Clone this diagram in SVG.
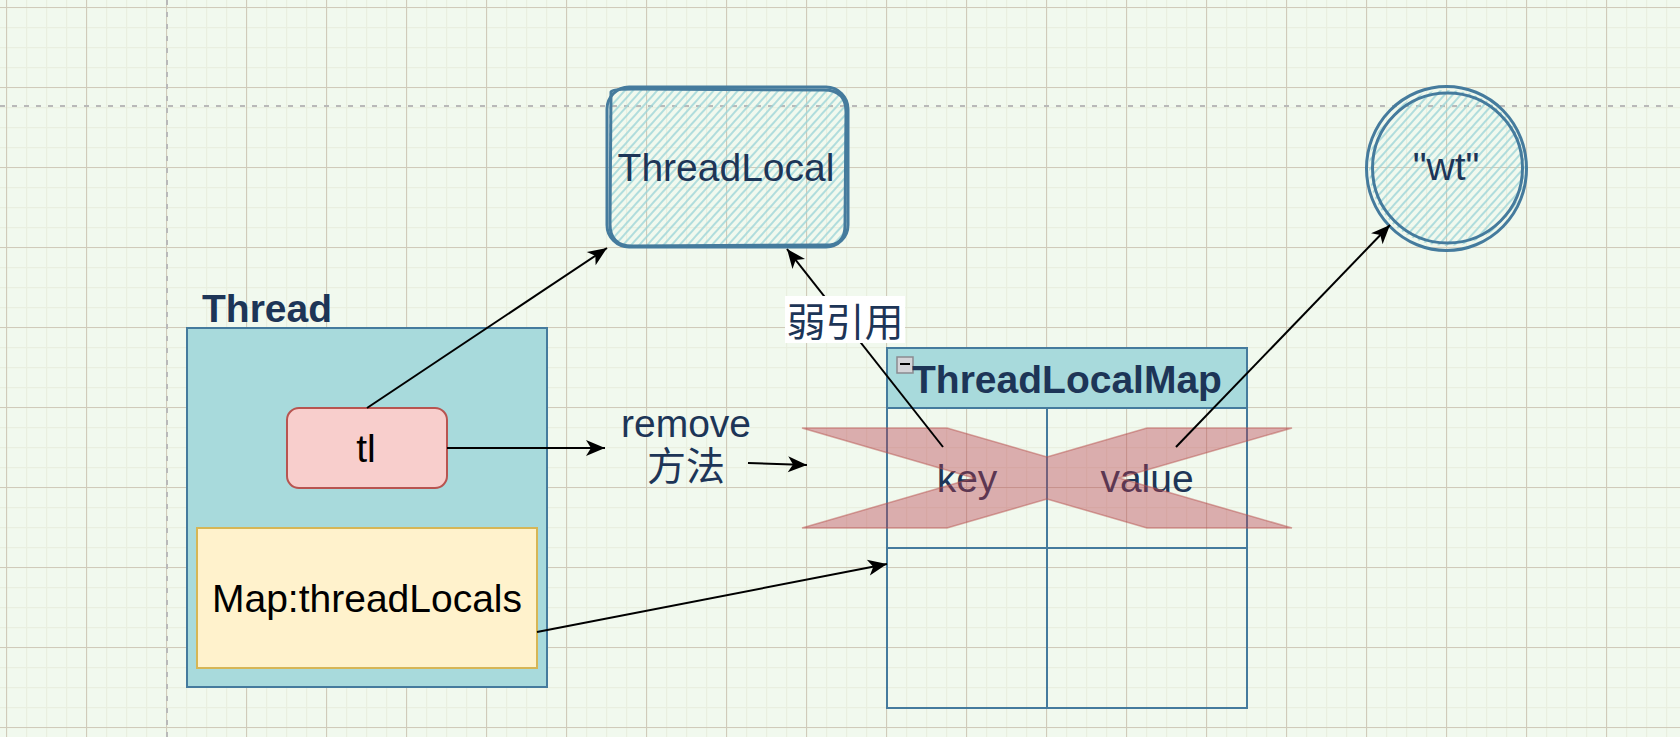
<svg xmlns="http://www.w3.org/2000/svg" width="1680" height="737" viewBox="0 0 1680 737">
<style>
.t{font-family:"Liberation Sans",Arial,"Noto Sans CJK SC",sans-serif;font-size:39px;fill:#1d3557;text-anchor:middle}
.b{font-weight:bold}
.k{fill:#000}
.conn line{stroke:#000;stroke-width:2;fill:none}
.sk{fill:none;stroke:#457b9d;stroke-width:3}
</style>
<defs>
<pattern id="minor" x="6" y="7" width="20" height="20" patternUnits="userSpaceOnUse">
<path d="M0,0 H20 M0,0 V20" stroke="#e9efe0" stroke-width="2.5" fill="none"/>
</pattern>
<pattern id="major" x="6" y="7" width="80" height="80" patternUnits="userSpaceOnUse">
<path d="M0,0.5 H80 M0.5,0 V80" stroke="#d0cbba" stroke-width="1.2" fill="none"/>
</pattern>
<pattern id="hach" width="6" height="6" patternUnits="userSpaceOnUse" patternTransform="rotate(-48)">
<line x1="0" y1="3" x2="6" y2="3" stroke="#9fd6d8" stroke-width="1.6"/>
</pattern>
<clipPath id="tlclip"><rect x="609" y="89" width="238" height="158" rx="20"/></clipPath>
<clipPath id="wtclip"><circle cx="1447" cy="168" r="78"/></clipPath>
<marker id="arr" viewBox="-20 -9 21 18" markerWidth="21" markerHeight="18" refX="0" refY="0" orient="auto" markerUnits="userSpaceOnUse">
<path d="M0,0 L-19,-8 L-14,0 L-19,8 Z" fill="#000"/>
</marker>
</defs>
<rect width="1680" height="737" fill="#f1f9ee"/>
<rect width="1680" height="737" fill="url(#minor)"/>
<rect width="1680" height="737" fill="url(#major)"/>
<line x1="0" y1="106" x2="1680" y2="106" stroke="#b9b9b9" stroke-width="2" stroke-dasharray="5 7"/>
<line x1="167" y1="0" x2="167" y2="737" stroke="#b9b9b9" stroke-width="2" stroke-dasharray="5 7"/>

<g id="threadlocal">
<rect x="600" y="80" width="255" height="175" fill="url(#hach)" clip-path="url(#tlclip)"/>
<rect x="607" y="87" width="241" height="160" rx="22" class="sk"/>
<path d="M611,92 Q612,89 634,89 L824,90 Q846,90 846,112 L845,226 Q845,246 824,245 L632,246 Q610,246 610,224 Z" class="sk" stroke-width="2.2"/>
<text x="726" y="181" class="t">ThreadLocal</text>
</g>

<g id="wt">
<rect x="1365" y="85" width="165" height="170" fill="url(#hach)" clip-path="url(#wtclip)"/>
<ellipse cx="1446.5" cy="168.5" rx="80" ry="82" class="sk"/>
<circle cx="1447.5" cy="168" r="75" class="sk"/>
<text x="1446" y="180" class="t">"wt"</text>
</g>

<g id="thread">
<text x="202" y="322" class="t b" style="text-anchor:start">Thread</text>
<rect x="187" y="328" width="360" height="359" fill="#a8dadc" stroke="#457b9d" stroke-width="2"/>
</g>

<g id="tl">
<rect x="287" y="408" width="160" height="80" rx="12" fill="#f8cecc" stroke="#b85450" stroke-width="2"/>
<text x="366" y="462" class="t k">tl</text>
</g>

<g id="map">
<rect x="197" y="528" width="340" height="140" fill="#fff2cc" stroke="#d6b656" stroke-width="2"/>
<text x="367" y="612" class="t k">Map:threadLocals</text>
</g>

<g id="threadlocalmap">
<rect x="887" y="348" width="360" height="60" fill="#a8dadc" stroke="#457b9d" stroke-width="2"/>
<rect x="887" y="408" width="360" height="300" fill="none" stroke="#457b9d" stroke-width="2"/>
<line x1="1047" y1="408" x2="1047" y2="708" stroke="#457b9d" stroke-width="2"/>
<line x1="887" y1="548" x2="1247" y2="548" stroke="#457b9d" stroke-width="2"/>
<rect x="897" y="357" width="16" height="16" fill="#d4d4d8" stroke="#8a8a90" stroke-width="1.5"/>
<line x1="900" y1="364" x2="910" y2="364" stroke="#000" stroke-width="2"/>
<text x="1067" y="393" class="t b">ThreadLocalMap</text>
<text x="967" y="492" class="t">key</text>
<text x="1147" y="492" class="t">value</text>
</g>

<g id="cross">
<polygon points="802,428 947,428 1047,457 1147,428 1292,428 1119,478 1292,528 1147,528 1047,499 947,528 802,528 974,478" fill="#b83b4b" fill-opacity="0.4" stroke="#b85450" stroke-opacity="0.5" stroke-width="1.5"/>
</g>

<g id="remove-label">
<text x="686" y="437" class="t">remove</text>
<text x="686" y="480" class="t">方法</text>
</g>

<g class="conn" id="connectors">
<line x1="367" y1="408" x2="607" y2="248" marker-end="url(#arr)"/>
<line x1="447" y1="448" x2="605" y2="448" marker-end="url(#arr)"/>
<line x1="748" y1="463" x2="807" y2="465" marker-end="url(#arr)"/>
<line x1="537" y1="632" x2="887" y2="564" marker-end="url(#arr)"/>
<line x1="943" y1="447" x2="787" y2="249" marker-end="url(#arr)"/>
<line x1="1176" y1="447" x2="1390" y2="225" marker-end="url(#arr)"/>
</g>

<g id="weakref-label">
<rect x="785" y="296" width="120" height="47" fill="#ffffff"/>
<text x="845" y="336" class="t">弱引用</text>
</g>
</svg>
